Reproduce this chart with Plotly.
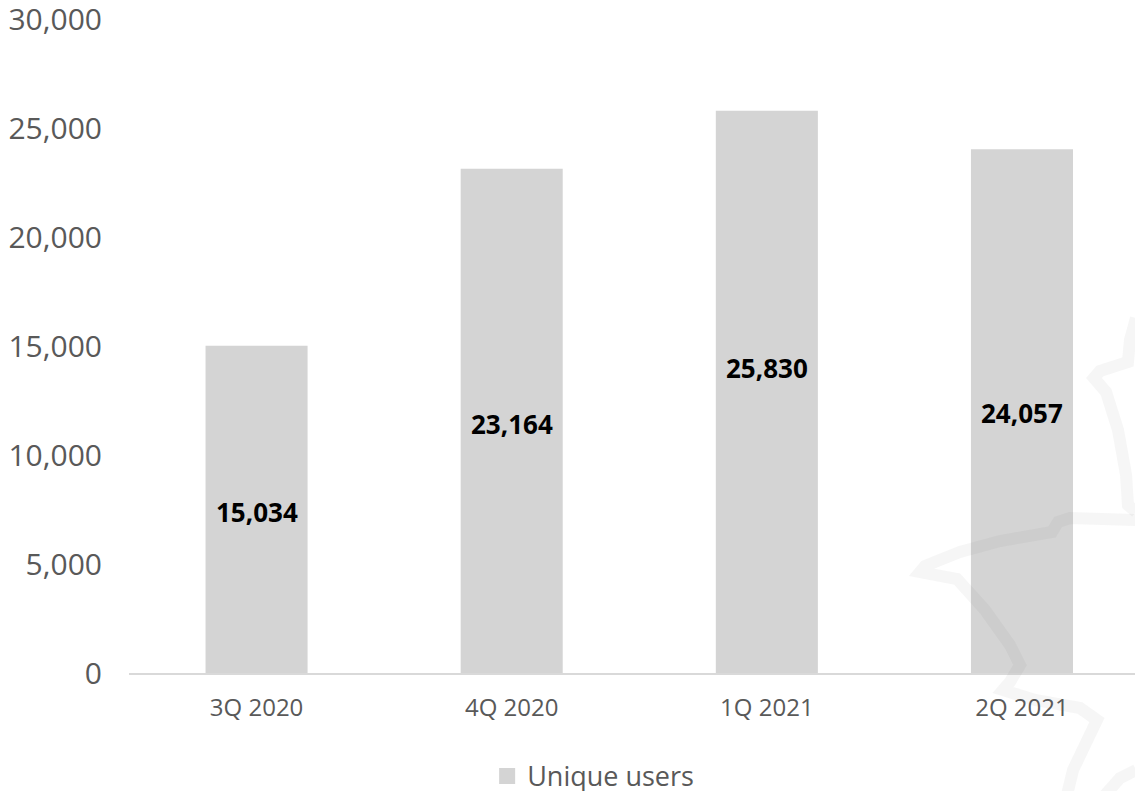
import plotly.graph_objects as go

# ---- data ----
categories = ["3Q 2020", "4Q 2020", "1Q 2021", "2Q 2021"]
unique_users = [15034, 23164, 25830, 24057]
series_name = "Unique users"
y_tick_values = [0, 5000, 10000, 15000, 20000, 25000, 30000]
y_tick_labels = ["0", "5,000", "10,000", "15,000", "20,000", "25,000", "30,000"]

# ---- style ----
W, H = 1135, 791
ML, MR, MT, MB = 129, 0, 19, 118
BAR_COLOR = "#D4D4D4"
TICK_COLOR = "#595959"
FONT = "Open Sans"
label_yshift = [-3, -3, 24, -2]
Y_MAX = 30000 * 1.0015

fig = go.Figure()
fig.add_trace(go.Bar(
    x=categories, y=unique_users, name=series_name,
    marker=dict(color=BAR_COLOR, line=dict(width=0)),
    width=0.4, showlegend=False, hoverinfo="x+y",
))
# legend entry with a larger square swatch
fig.add_trace(go.Scatter(
    x=[None], y=[None], mode="markers", name=series_name,
    marker=dict(symbol="square", size=16, color=BAR_COLOR), showlegend=True,
))

for c, v, ys in zip(categories, unique_users, label_yshift):
    fig.add_annotation(x=c, y=v / 2, text=f"<b>{v:,}</b>", showarrow=False,
                       yshift=ys, font=dict(family=FONT, size=26, color="#000000"))

# decorative faint map watermark (pixel points -> paper coords)
def px_path(points):
    pw, ph = W - ML - MR, H - MT - MB
    segs = []
    for i, (px, py) in enumerate(points):
        xp = (px - ML) / pw
        yp = (H - MB - py) / ph
        segs.append(("M" if i == 0 else "L") + f"{xp:.4f},{yp:.4f}")
    return " ".join(segs)

wm_paths = [
    [(1136, 318), (1130, 340), (1128, 362), (1100, 371), (1094, 378), (1106, 392),
     (1118, 430), (1126, 475), (1128, 505), (1136, 512)],
    [(1136, 520), (1070, 518), (1058, 522), (1052, 532), (1000, 541), (960, 552),
     (925, 566), (920, 572), (957, 579), (985, 610), (1010, 645), (1020, 665),
     (1010, 682), (1003, 690), (1035, 700), (1080, 708), (1097, 720), (1085, 745),
     (1073, 770), (1067, 795)],
    [(1105, 795), (1120, 778), (1136, 770)],
]
for pts in wm_paths:
    fig.add_shape(type="path", path=px_path(pts), xref="paper", yref="paper",
                  line=dict(color="rgba(110,110,110,0.06)", width=12), layer="above")

fig.update_layout(
    width=W, height=H,
    margin=dict(l=ML, r=MR, t=MT, b=MB, pad=0, autoexpand=False),
    paper_bgcolor="white", plot_bgcolor="white",
    font=dict(family=FONT, color=TICK_COLOR),
    xaxis=dict(
        type="category", range=[-0.5, 3.443], showgrid=False, zeroline=False,
        showline=True, linecolor="#D9D9D9", linewidth=2, ticks="",
        tickfont=dict(family=FONT, size=24, color=TICK_COLOR),
        ticklabelstandoff=12, automargin=False,
    ),
    yaxis=dict(
        range=[0, Y_MAX], tickvals=y_tick_values, ticktext=y_tick_labels,
        showgrid=False, zeroline=False, showline=False, ticks="",
        tickfont=dict(family=FONT, size=30, color=TICK_COLOR),
        ticklabelstandoff=26, automargin=False, ticklabeloverflow="allow",
    ),
    legend=dict(orientation="h", x=0.356, xanchor="left", y=-0.158, yanchor="middle",
                font=dict(family=FONT, size=27, color=TICK_COLOR),
                itemwidth=30, bgcolor="rgba(0,0,0,0)"),
)

fig.write_html(
    "out.html",
    config={"displayModeBar": False},
    post_script="document.body.style.margin='0';document.body.style.overflow='hidden';",
)
